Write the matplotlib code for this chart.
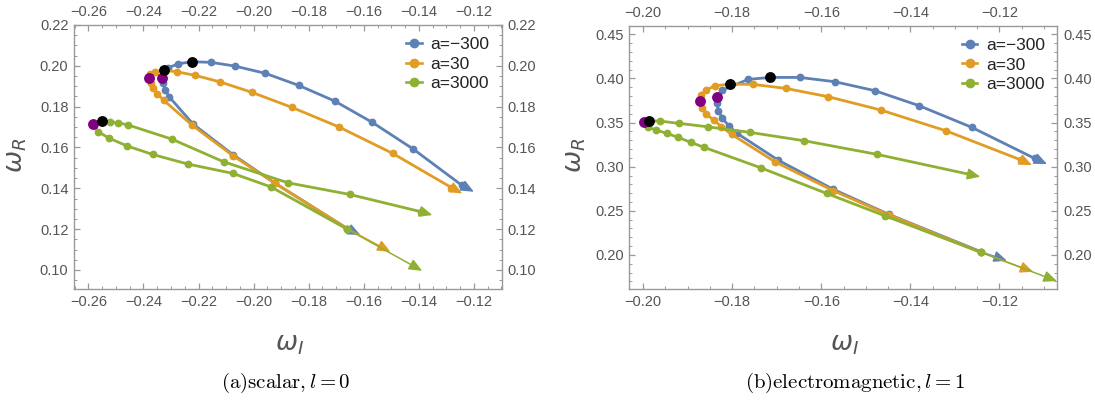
import matplotlib
matplotlib.use("Agg")
import matplotlib.pyplot as plt
from matplotlib.lines import Line2D
from matplotlib.ticker import MultipleLocator

plt.rcParams['font.family'] = ['Liberation Sans', 'DejaVu Sans']

# ---- data (omega_I, omega_R), each path runs from the upper arrow tip to the lower arrow tip
labels = ["a=\u2212300", "a=30", "a=3000"]
colors = ["#5E81B5", "#E19C24", "#8FB032"]

# (a) scalar, l=0
scal_blue_I = [-0.1200, -0.1245, -0.1420, -0.1569, -0.1705, -0.1836, -0.1957, -0.2069, -0.2155,
               -0.2224, -0.2273, -0.2309, -0.2333, -0.2329, -0.2320, -0.2307, -0.2220, -0.2073,
               -0.1921, -0.1660, -0.1612]
scal_blue_R = [0.1383, 0.1416, 0.1592, 0.1723, 0.1827, 0.1904, 0.1963, 0.1999, 0.2017,
               0.2020, 0.2010, 0.1991, 0.1942, 0.1914, 0.1881, 0.1849, 0.1715, 0.1563,
               0.1424, 0.1203, 0.1171]
scal_orange_I = [-0.1242, -0.1282, -0.1495, -0.1691, -0.1860, -0.2006, -0.2121, -0.2212, -0.2279,
                 -0.2325, -0.2357, -0.2376, -0.2378, -0.2373, -0.2364, -0.2349, -0.2327, -0.2224,
                 -0.2073, -0.1921, -0.1660, -0.1503]
scal_orange_R = [0.1375, 0.1404, 0.1571, 0.1701, 0.1796, 0.1870, 0.1921, 0.1953, 0.1971,
                 0.1978, 0.1971, 0.1958, 0.1942, 0.1914, 0.1890, 0.1862, 0.1832, 0.1710,
                 0.1558, 0.1424, 0.1203, 0.1089]
scal_green_I = [-0.1351, -0.1391, -0.1651, -0.1875, -0.2109, -0.2297, -0.2455, -0.2491, -0.2521,
                -0.2551, -0.2582, -0.2564, -0.2524, -0.2460, -0.2367, -0.2239, -0.2075, -0.1937,
                -0.1660, -0.1388]
scal_green_R = [0.1269, 0.1285, 0.1370, 0.1427, 0.1530, 0.1641, 0.1710, 0.1721, 0.1726,
                0.1729, 0.1713, 0.1677, 0.1645, 0.1608, 0.1566, 0.1519, 0.1473, 0.1407,
                0.1200, 0.0996]
scal_black_I = [-0.2224, -0.2325, -0.2551]
scal_black_R = [0.2020, 0.1978, 0.1729]
scal_purple_I = [-0.2333, -0.2378, -0.2582]
scal_purple_R = [0.1942, 0.1942, 0.1713]

# (b) electromagnetic, l=1
em_blue_I = [-0.1093, -0.1121, -0.1262, -0.1380, -0.1479, -0.1569, -0.1648, -0.1714, -0.1764,
             -0.1822, -0.1834, -0.1834, -0.1831, -0.1822, -0.1807, -0.1789, -0.1697, -0.1573,
             -0.1448, -0.1241, -0.1183]
em_blue_R = [0.3030, 0.3094, 0.3446, 0.3691, 0.3861, 0.3963, 0.4012, 0.4012, 0.3990,
             0.3868, 0.3793, 0.3718, 0.3634, 0.3548, 0.3460, 0.3378, 0.3075, 0.2743,
             0.2459, 0.2035, 0.1933]
em_orange_I = [-0.1127, -0.1151, -0.1320, -0.1466, -0.1584, -0.1680, -0.1753, -0.1804, -0.1839,
               -0.1859, -0.1870, -0.1873, -0.1867, -0.1858, -0.1841, -0.1824, -0.1801, -0.1704,
               -0.1573, -0.1447, -0.1241, -0.1124]
em_orange_R = [0.3018, 0.3075, 0.3407, 0.3642, 0.3793, 0.3888, 0.3933, 0.3937, 0.3917,
               0.3868, 0.3812, 0.3747, 0.3668, 0.3593, 0.3528, 0.3452, 0.3366, 0.3056,
               0.2727, 0.2451, 0.2028, 0.1808]
em_green_I = [-0.1243, -0.1267, -0.1474, -0.1638, -0.1760, -0.1854, -0.1919, -0.1962, -0.1987,
              -0.1998, -0.1989, -0.1970, -0.1947, -0.1921, -0.1893, -0.1863, -0.1736, -0.1588,
              -0.1457, -0.1241, -0.1071]
em_green_R = [0.2886, 0.2913, 0.3139, 0.3294, 0.3389, 0.3452, 0.3491, 0.3517, 0.3520,
              0.3509, 0.3446, 0.3415, 0.3378, 0.3332, 0.3276, 0.3219, 0.2988, 0.2697,
              0.2443, 0.2028, 0.1703]
em_black_I = [-0.1714, -0.1804, -0.1987]
em_black_R = [0.4012, 0.3937, 0.3520]
em_purple_I = [-0.1834, -0.1873, -0.1998]
em_purple_R = [0.3793, 0.3747, 0.3509]

grey = "#555555"
frame = "#999999"


def draw_panel(ax, curves, black, purple, xlim, ylim, xmaj, ymaj, ymin):
    for (xs, ys), c in zip(curves, colors):
        ax.plot(xs[1:-1], ys[1:-1], color=c, lw=2.0, marker='o', ms=4.6,
                solid_capstyle='round', zorder=2)
        for a, b in [(1, 0), (-2, -1)]:
            ax.annotate('', xy=(xs[b], ys[b]), xytext=(xs[a], ys[a]),
                        arrowprops=dict(arrowstyle='-|>,head_length=0.6,head_width=0.26',
                                        color=c, lw=1.1, shrinkA=0, shrinkB=0,
                                        mutation_scale=13), zorder=2)
    ax.plot(purple[0], purple[1], 'o', color='#800080', ms=6.8, ls='none', zorder=3)
    ax.plot(black[0], black[1], 'o', color='black', ms=6.8, ls='none', zorder=3)
    ax.set_xlim(*xlim)
    ax.set_ylim(*ylim)
    ax.xaxis.set_major_locator(MultipleLocator(xmaj))
    ax.xaxis.set_minor_locator(MultipleLocator(0.005))
    ax.yaxis.set_major_locator(MultipleLocator(ymaj))
    ax.yaxis.set_minor_locator(MultipleLocator(ymin))
    ax.xaxis.set_major_formatter(lambda v, p: f"{v:.2f}".replace('-', '\u2212'))
    ax.yaxis.set_major_formatter(lambda v, p: f"{v:.2f}")
    ax.tick_params(which='both', direction='in', top=True, right=True,
                   labeltop=True, labelright=True, colors=frame,
                   labelcolor=grey, labelsize=10.5, pad=4)
    ax.tick_params(which='major', length=4.5, width=0.9)
    ax.tick_params(which='minor', length=2.5, width=0.7)
    for s in ax.spines.values():
        s.set_color(frame)
        s.set_linewidth(1.0)
    handles = [Line2D([], [], color=c, lw=1.9, marker='o', ms=6) for c in colors]
    leg = ax.legend(handles, labels, loc='upper right', frameon=False, fontsize=12.5,
                    handlelength=0.9, handletextpad=0.5, labelspacing=0.25,
                    borderaxespad=0.3)
    for t in leg.get_texts():
        t.set_color('#222222')


fig = plt.figure(figsize=(10.95, 4.08), dpi=100)
ax1 = fig.add_axes([0.0676, 0.2917, 0.3906, 0.6471])
ax2 = fig.add_axes([0.5747, 0.2909, 0.3909, 0.6460])

draw_panel(ax1,
           [(scal_blue_I, scal_blue_R), (scal_orange_I, scal_orange_R), (scal_green_I, scal_green_R)],
           (scal_black_I, scal_black_R), (scal_purple_I, scal_purple_R),
           (-0.2652, -0.1099), (0.0907, 0.2200), 0.02, 0.02, 0.005)
draw_panel(ax2,
           [(em_blue_I, em_blue_R), (em_orange_I, em_orange_R), (em_green_I, em_green_R)],
           (em_black_I, em_black_R), (em_purple_I, em_purple_R),
           (-0.2031, -0.1070), (0.161, 0.4598), 0.02, 0.05, 0.01)

for x0, yl in [(290, 17), (845, 576)]:
    fig.text(x0 / 1095, 1 - 345 / 408, r'$\omega_I$', fontsize=19, color=grey,
             ha='center', va='center')
    fig.text(yl / 1095, 1 - 155 / 408, r'$\omega_R$', fontsize=19, color=grey,
             ha='center', va='center', rotation=90)

fig.text(286 / 1095, 1 - 383 / 408, r'$\mathrm{(a)scalar,}l=0$', fontsize=15,
         math_fontfamily='cm', ha='center', va='center')
fig.text(855 / 1095, 1 - 383 / 408, r'$\mathrm{(b)electromagnetic,}l=1$', fontsize=15,
         math_fontfamily='cm', ha='center', va='center')

fig.savefig("out.png", dpi=100)
